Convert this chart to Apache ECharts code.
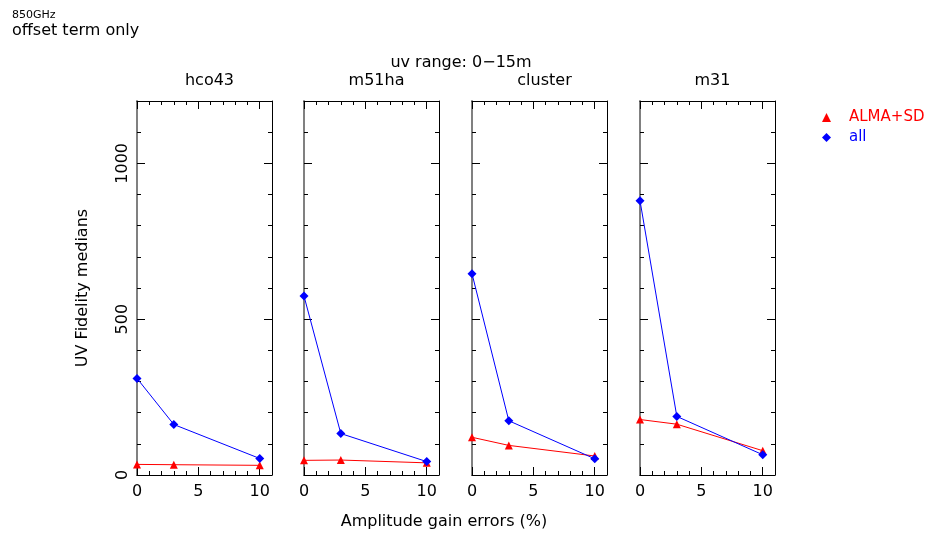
<!DOCTYPE html>
<html>
<head>
<meta charset="utf-8">
<script src="https://cdn.jsdelivr.net/npm/echarts@6/dist/echarts.min.js"></script>
<style>
html,body{margin:0;padding:0;background:#fff;}
#chart{width:927px;height:533px;}
</style>
</head>
<body>
<div id="chart"></div>
<script>
// ---- data ----
const gainErrors = [0, 3, 10];
const panelNames = ['hco43', 'm51ha', 'cluster', 'm31'];
const almaSdHco43 = [34, 33, 31];
const allHco43 = [310, 162, 53];
const almaSdM51ha = [47, 48, 39];
const allM51ha = [574, 133, 43];
const almaSdCluster = [121, 95, 61];
const allCluster = [646, 174, 52];
const almaSdM31 = [178, 163, 78];
const allM31 = [880, 188, 65];
const xTickLabels = ['0', '5', '10'];
const yTickLabels = ['0', '500', '1000'];

const almaSdSets = [almaSdHco43, almaSdM51ha, almaSdCluster, almaSdM31];
const allSets = [allHco43, allM51ha, allCluster, allM31];

// ---- layout ----
const FONT = 'DejaVu Sans';
const FS = 16;
const gridLefts = [137, 304, 472, 640];
const gridW = 135, gridTop = 101, gridH = 374;

const grids = [], xAxes = [], yAxes = [], series = [], titles = [];
function mkX(i, pos, showLabels) {
  return {
    type: 'value', gridIndex: i, position: pos, min: 0, max: 11, interval: 5,
    axisLine: {show: true, onZero: false, lineStyle: {color: '#000', width: 1}},
    axisTick: {show: true, inside: true, length: 8, lineStyle: {color: '#000'}},
    minorTick: {show: true, splitNumber: 5, length: 4, lineStyle: {color: '#000'}},
    splitLine: {show: false},
    axisLabel: {show: showLabels, margin: 9, color: '#000', fontFamily: FONT, fontSize: FS,
      formatter: v => xTickLabels[[0,5,10].indexOf(v)] ?? ''},
  };
}
function mkY(i, pos, showLabels, lineColor, lineWidth) {
  const ax = {
    type: 'value', gridIndex: i, position: pos, min: 0, max: 1200, interval: 500,
    axisLine: {show: true, onZero: false, lineStyle: {color: lineColor, width: lineWidth}},
    axisTick: {show: true, inside: true, length: 8, lineStyle: {color: '#000'}},
    minorTick: {show: true, splitNumber: 5, length: 4, lineStyle: {color: '#000'}},
    splitLine: {show: false},
    axisLabel: {show: showLabels, rotate: 90, margin: 6, color: '#000', fontFamily: FONT, fontSize: FS,
      formatter: v => yTickLabels[[0,500,1000].indexOf(v)] ?? ''},
  };
  if (i === 0 && pos === 'left') {
    ax.name = 'UV Fidelity medians';
    ax.nameLocation = 'middle';
    ax.nameGap = 46;
    ax.nameRotate = 90;
    ax.nameTextStyle = {color: '#000', fontFamily: FONT, fontSize: FS};
  }
  return ax;
}

panelNames.forEach((name, i) => {
  grids.push({left: gridLefts[i], top: gridTop, width: gridW, height: gridH, containLabel: false});
  xAxes.push(mkX(i, 'bottom', true));
  xAxes.push(mkX(i, 'top', false));
  yAxes.push(mkY(i, 'left', i === 0, '#808080', 2));
  yAxes.push(mkY(i, 'right', false, '#000', 1));
  series.push({
    name: 'ALMA+SD', type: 'line', xAxisIndex: 2 * i, yAxisIndex: 2 * i,
    data: gainErrors.map((x, k) => [x, almaSdSets[i][k]]),
    symbol: 'triangle', symbolSize: 8, showSymbol: true,
    lineStyle: {color: '#ff0000', width: 1}, itemStyle: {color: '#ff0000'},
    animation: false, z: 2
  });
  series.push({
    name: 'all', type: 'line', xAxisIndex: 2 * i, yAxisIndex: 2 * i,
    data: gainErrors.map((x, k) => [x, allSets[i][k]]),
    symbol: 'diamond', symbolSize: 9, showSymbol: true,
    lineStyle: {color: '#0000ff', width: 1}, itemStyle: {color: '#0000ff'},
    animation: false, z: 3
  });
  titles.push({
    text: name, left: gridLefts[i] + gridW / 2, top: 68, textAlign: 'center',
    textStyle: {color: '#000', fontFamily: FONT, fontSize: FS, fontWeight: 'normal'}
  });
});

titles.push({text: '850GHz', left: 7, top: 5,
  textStyle: {color: '#000', fontFamily: FONT, fontSize: 11, fontWeight: 'normal'}});
titles.push({text: 'offset term only', left: 7, top: 18,
  textStyle: {color: '#000', fontFamily: FONT, fontSize: FS, fontWeight: 'normal'}});
titles.push({text: 'uv range: 0\u221215m', left: 456, top: 50, textAlign: 'center',
  textStyle: {color: '#000', fontFamily: FONT, fontSize: FS, fontWeight: 'normal'}});
titles.push({text: 'Amplitude gain errors (%)', left: 439, top: 509, textAlign: 'center',
  textStyle: {color: '#000', fontFamily: FONT, fontSize: FS, fontWeight: 'normal'}});

const chart = echarts.init(document.getElementById('chart'), null, {renderer: 'canvas'});
chart.setOption({
  animation: false,
  backgroundColor: '#fff',
  title: titles,
  grid: grids,
  xAxis: xAxes,
  yAxis: yAxes,
  legend: {
    orient: 'vertical', left: 817, top: 105, itemGap: 5,
    itemWidth: 9, itemHeight: 9,
    data: [
      {name: 'ALMA+SD', icon: 'triangle', itemStyle: {color: '#ff0000'},
       textStyle: {color: '#ff0000', fontFamily: FONT, fontSize: 15, padding: [0, 0, 0, 13]}},
      {name: 'all', icon: 'diamond', itemStyle: {color: '#0000ff'},
       textStyle: {color: '#0000ff', fontFamily: FONT, fontSize: 15, padding: [0, 0, 0, 13]}}
    ],
    selectedMode: false
  },
  series: series
});
</script>
</body>
</html>
